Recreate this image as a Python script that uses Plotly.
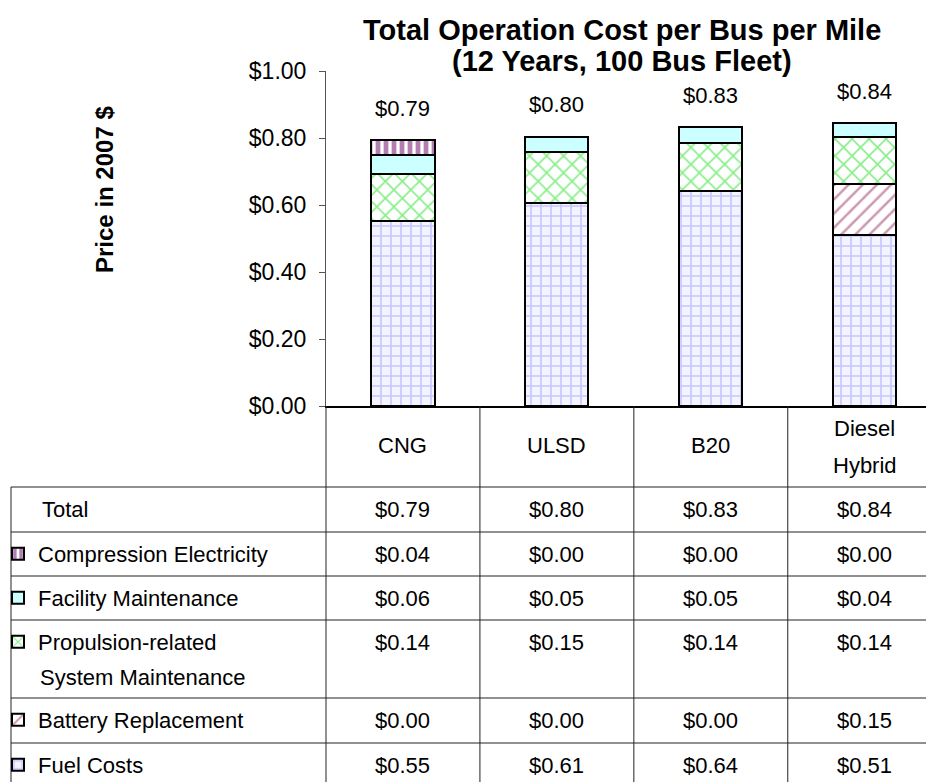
import plotly.graph_objects as go

categories = ["CNG", "ULSD", "B20", "Diesel Hybrid"]
header_lines = [["CNG"], ["ULSD"], ["B20"], ["Diesel", "Hybrid"]]

fuel = [0.552, 0.606, 0.642, 0.510]
battery = [0.0, 0.0, 0.0, 0.152]
propulsion = [0.142, 0.152, 0.143, 0.142]
facility = [0.056, 0.046, 0.047, 0.040]
compression = [0.044, 0.0, 0.0, 0.0]

totals = [f + b + p + fa + c for f, b, p, fa, c in zip(fuel, battery, propulsion, facility, compression)]

FONT = "Liberation Sans, Arial, sans-serif"
OFF = 8  # the page puts the figure 8px in from the top-left corner
W, H = 934 - OFF, 782 - OFF
PLOT_L, PLOT_R, PLOT_T, PLOT_B = 326 - OFF, 934 - OFF, 71 - OFF, 406 - OFF
X_RANGE = [-0.5, 3.45]
TXT = dict(family=FONT, size=22, color="black")


# positions below are given in page pixels
def px_x(px):
    return (px - OFF - PLOT_L) / (PLOT_R - PLOT_L)


def px_y(py):
    return (PLOT_B - (py - OFF)) / (PLOT_B - PLOT_T)


def data_x(v):
    return (v - X_RANGE[0]) / (X_RANGE[1] - X_RANGE[0])


def money(v):
    return f"${v:.2f}"


def label(x, y, text, xanchor="center", **kw):
    return dict(x=x, y=y, xref="paper", yref="paper", text=text, showarrow=False,
                xanchor=xanchor, yanchor="middle", font=kw.pop("font", TXT), **kw)


# stack order bottom -> top, with the table row (page pixel centre) each one sits in
series = [
    ("Fuel Costs", fuel, dict(shape="+", fgcolor="#9999ff", bgcolor="#f4f4ff", size=10, solidity=0.3), 765),
    ("Battery Replacement", battery, dict(shape="/", fgcolor="#993366", bgcolor="white", size=10, solidity=0.25), 720),
    ("Propulsion-related", propulsion, dict(shape="x", fgcolor="#11dd11", bgcolor="white", size=12, solidity=0.25), 642),
    ("Facility Maintenance", facility, dict(shape="", bgcolor="#ccffff", fgcolor="#ccffff"), 598),
    ("Compression Electricity", compression, dict(shape="|", fgcolor="#660066", bgcolor="white", size=8, solidity=0.6), 554),
]
fill_colors = {"Facility Maintenance": "#ccffff"}

fig = go.Figure()
layout_legends = {}
for i, (name, vals, pattern, row_y) in enumerate(series):
    key = "legend" if i == 0 else f"legend{i + 1}"
    fig.add_trace(
        go.Bar(
            x=categories,
            y=vals,
            name=name,
            width=0.41,
            marker=dict(
                color=fill_colors.get(name, "white"),
                pattern=pattern,
                line=dict(color="black", width=2),
            ),
            legend=key,
            hoverinfo="skip",
        )
    )
    layout_legends[key] = dict(
        x=px_x(-2),
        y=px_y(row_y),
        xref="paper",
        yref="paper",
        xanchor="left",
        yanchor="middle",
        bgcolor="rgba(0,0,0,0)",
        font=TXT,
    )

annotations = []
# totals above bars
for i, t in enumerate(totals):
    annotations.append(dict(x=categories[i], y=t, xref="x", yref="y", text=money(t), showarrow=False,
                            xanchor="center", yanchor="middle", yshift=32, font=TXT))

# header row category names
for i, lines in enumerate(header_lines):
    ys = [446] if len(lines) == 1 else [428, 465]
    for text, yy in zip(lines, ys):
        annotations.append(label(data_x(i), px_y(yy), text))

# table values
table_rows = [("Total", totals, 509)] + [(name, vals, row_y) for name, vals, _, row_y in reversed(series)]
for name, vals, row_y in table_rows:
    for i, v in enumerate(vals):
        annotations.append(label(data_x(i), px_y(row_y), money(v)))

annotations.append(label(px_x(40), px_y(509), "Total", xanchor="left"))
annotations.append(label(px_x(38), px_y(677), "System Maintenance", xanchor="left"))

annotations.append(label(px_x(104), px_y(190), "<b>Price in 2007 $</b>", textangle=-90,
                         font=dict(family=FONT, size=24, color="black")))

TITLE = dict(family=FONT, size=29, color="black")
annotations.append(label(px_x(622), px_y(30), "<b>Total Operation Cost per Bus per Mile</b>", font=TITLE))
annotations.append(label(px_x(622), px_y(61), "<b>(12 Years, 100 Bus Fleet)</b>", font=TITLE))

# table grid
LINE = dict(color="#222222", width=1)
shapes = []
for hy in [487, 532, 576, 620, 698, 743]:
    shapes.append(dict(type="line", xref="paper", yref="paper", x0=px_x(11), x1=1, y0=px_y(hy), y1=px_y(hy), line=LINE))
shapes.append(dict(type="line", xref="paper", yref="paper", x0=px_x(11), x1=px_x(11), y0=px_y(487), y1=px_y(800), line=LINE))
shapes.append(dict(type="line", xref="paper", yref="paper", x0=0, x1=0, y0=0, y1=px_y(800), line=LINE))
for b in [0.5, 1.5, 2.5]:
    shapes.append(dict(type="line", xref="paper", yref="paper", x0=data_x(b), x1=data_x(b), y0=0, y1=px_y(800), line=LINE))

fig.update_layout(
    width=W,
    height=H,
    margin=dict(l=PLOT_L, r=W - PLOT_R, t=PLOT_T, b=H - PLOT_B, autoexpand=False),
    barmode="stack",
    plot_bgcolor="white",
    paper_bgcolor="white",
    showlegend=True,
    xaxis=dict(range=X_RANGE, showticklabels=False, ticks="", showgrid=False, zeroline=False,
               showline=True, linecolor="black", linewidth=2),
    yaxis=dict(range=[0, 1.0], dtick=0.2, tickformat="$.2f", ticks="outside", ticklen=6,
               tickcolor="#555555", showline=True, linecolor="#555555", linewidth=1,
               showgrid=False, zeroline=False, ticklabelstandoff=8,
               tickfont=dict(family=FONT, size=23, color="black")),
    annotations=annotations,
    shapes=shapes,
    **layout_legends,
)

fig.write_html("out.html")
